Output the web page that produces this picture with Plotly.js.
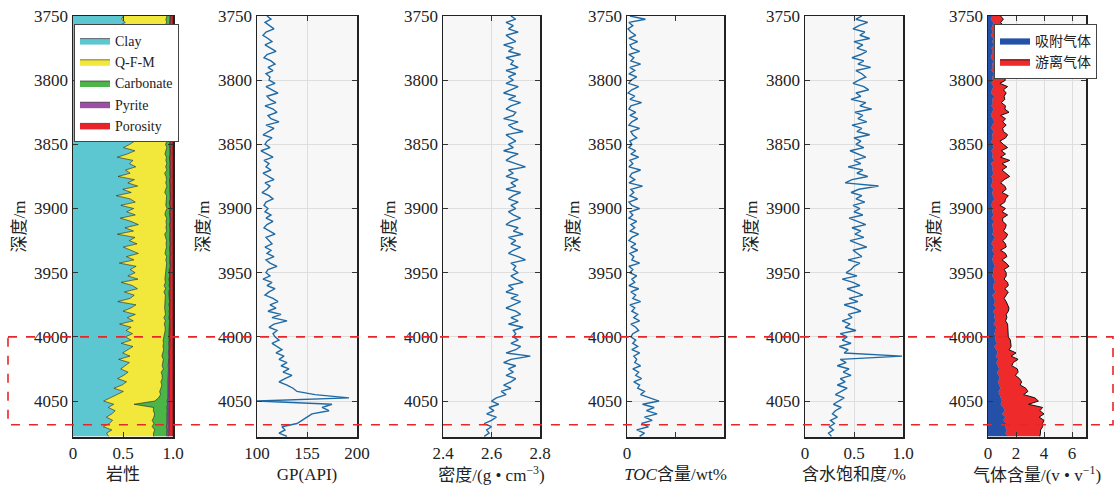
<!DOCTYPE html>
<html><head><meta charset="utf-8">
<script src="https://cdn.plot.ly/plotly-3.0.1.min.js"></script>
<style>html,body{margin:0;padding:0;background:#fff}#chart{width:1116px;height:488px}</style>
</head><body><div id="chart"></div>
<script>
// depth sampling (m), 2.5 m step from 3750 to 4077.5
const depthStart = 3750, depthStep = 2.5, nSamples = 132;
const depth = [];
for (let i = 0; i < nSamples; i++) depth.push(depthStart + depthStep * i);

// Lithology fractions
const clay = [0.50,0.48,0.52,0.47,0.55,0.50,0.53,0.49,0.56,0.51,0.54,0.48,0.57,0.52,0.50,0.55,0.49,0.58,0.53,0.51,
0.56,0.52,0.58,0.50,0.60,0.55,0.62,0.53,0.57,0.48,0.61,0.56,0.52,0.63,0.55,0.59,0.50,0.58,0.54,0.61,
0.57,0.50,0.62,0.55,0.44,0.60,0.56,0.63,0.52,0.58,0.45,0.61,0.55,0.64,0.50,0.59,0.43,0.57,0.62,0.48,
0.60,0.54,0.63,0.47,0.58,0.65,0.52,0.60,0.45,0.62,0.56,0.64,0.50,0.59,0.66,0.53,0.61,0.46,0.63,0.57,
0.62,0.55,0.65,0.48,0.60,0.64,0.52,0.61,0.57,0.45,0.63,0.58,0.50,0.62,0.55,0.60,0.47,0.58,0.53,0.60,
0.52,0.58,0.48,0.60,0.55,0.50,0.57,0.45,0.56,0.52,0.47,0.55,0.50,0.44,0.53,0.48,0.40,0.50,0.42,0.36,
0.30,0.40,0.35,0.42,0.38,0.33,0.40,0.36,0.30,0.38,0.33,0.35];
const qfm = [0.43,0.44,0.41,0.46,0.38,0.42,0.40,0.44,0.36,0.42,0.39,0.45,0.35,0.41,0.43,0.38,0.44,0.35,0.40,0.42,
0.37,0.41,0.35,0.43,0.33,0.38,0.31,0.40,0.36,0.45,0.32,0.37,0.41,0.30,0.38,0.34,0.43,0.35,0.39,0.32,
0.36,0.43,0.31,0.38,0.49,0.33,0.37,0.30,0.41,0.35,0.48,0.32,0.38,0.29,0.43,0.34,0.50,0.36,0.31,0.45,
0.33,0.39,0.30,0.46,0.35,0.28,0.41,0.33,0.48,0.31,0.37,0.29,0.43,0.34,0.27,0.40,0.32,0.47,0.30,0.36,
0.30,0.37,0.27,0.44,0.32,0.28,0.40,0.31,0.35,0.47,0.29,0.34,0.42,0.30,0.37,0.32,0.45,0.34,0.39,0.32,
0.38,0.32,0.42,0.30,0.35,0.40,0.32,0.44,0.33,0.37,0.42,0.33,0.38,0.44,0.34,0.39,0.46,0.36,0.43,0.47,
0.50,0.20,0.45,0.38,0.42,0.47,0.40,0.44,0.48,0.42,0.46,0.44];
const carbonate = [0.03,0.04,0.03,0.05,0.03,0.04,0.03,0.04,0.05,0.03,0.04,0.03,0.04,0.03,0.05,0.04,0.03,0.04,0.03,0.04,
0.04,0.03,0.05,0.03,0.04,0.03,0.04,0.05,0.03,0.04,0.03,0.04,0.03,0.05,0.04,0.03,0.04,0.03,0.05,0.03,
0.04,0.03,0.04,0.05,0.03,0.04,0.03,0.04,0.03,0.05,0.04,0.03,0.04,0.03,0.04,0.05,0.03,0.04,0.03,0.04,
0.03,0.04,0.05,0.03,0.04,0.03,0.04,0.03,0.05,0.04,0.03,0.04,0.03,0.04,0.05,0.03,0.04,0.03,0.04,0.03,
0.04,0.05,0.04,0.04,0.05,0.04,0.05,0.04,0.04,0.05,0.04,0.05,0.04,0.04,0.05,0.04,0.05,0.04,0.04,0.05,
0.05,0.06,0.05,0.06,0.05,0.06,0.07,0.05,0.06,0.06,0.05,0.07,0.06,0.06,0.07,0.06,0.07,0.08,0.07,0.09,
0.12,0.33,0.13,0.14,0.12,0.13,0.15,0.13,0.14,0.12,0.13,0.13];
const pyrite = [0.005,0.008,0.006,0.005,0.007,0.006,0.005,0.008,0.006,0.005,0.007,0.006,0.005,0.008,0.006,0.005,0.007,0.006,0.005,0.008,
0.006,0.005,0.007,0.006,0.005,0.008,0.006,0.005,0.007,0.006,0.005,0.008,0.006,0.005,0.007,0.006,0.005,0.008,0.006,0.005,
0.007,0.006,0.005,0.008,0.006,0.005,0.007,0.006,0.005,0.008,0.006,0.005,0.007,0.006,0.005,0.008,0.006,0.005,0.007,0.006,
0.005,0.008,0.006,0.005,0.007,0.006,0.005,0.008,0.006,0.005,0.007,0.006,0.005,0.008,0.006,0.005,0.007,0.006,0.005,0.008,
0.008,0.006,0.009,0.007,0.008,0.006,0.009,0.007,0.008,0.006,0.009,0.007,0.008,0.006,0.009,0.007,0.008,0.006,0.009,0.007,
0.010,0.008,0.011,0.009,0.010,0.012,0.009,0.011,0.010,0.012,0.011,0.013,0.010,0.012,0.014,0.011,0.013,0.015,0.012,0.014,
0.018,0.015,0.020,0.017,0.019,0.016,0.020,0.018,0.021,0.017,0.019,0.018];
const porosity = [0.025,0.022,0.028,0.024,0.026,0.030,0.023,0.027,0.025,0.029,0.024,0.026,0.028,0.023,0.027,0.025,0.029,0.024,0.026,0.028,
0.025,0.027,0.023,0.029,0.026,0.024,0.028,0.025,0.027,0.023,0.029,0.026,0.024,0.028,0.025,0.027,0.023,0.029,0.026,0.024,
0.028,0.025,0.027,0.023,0.029,0.026,0.024,0.028,0.025,0.027,0.023,0.029,0.026,0.024,0.028,0.025,0.027,0.023,0.029,0.026,
0.024,0.028,0.025,0.027,0.023,0.029,0.026,0.024,0.028,0.025,0.027,0.023,0.029,0.026,0.024,0.028,0.025,0.027,0.023,0.029,
0.030,0.026,0.032,0.028,0.031,0.027,0.033,0.029,0.030,0.028,0.032,0.027,0.031,0.029,0.033,0.028,0.030,0.032,0.029,0.031,
0.032,0.030,0.034,0.031,0.033,0.035,0.032,0.034,0.033,0.036,0.034,0.035,0.037,0.034,0.036,0.038,0.035,0.037,0.039,0.036,
0.040,0.038,0.042,0.039,0.041,0.043,0.040,0.042,0.044,0.041,0.043,0.042];

// GP (API)
const gp = [110,114,108,112,117,109,106,111,115,108,113,119,110,107,114,118,111,116,109,113,
112,118,109,115,121,110,113,119,108,116,120,111,114,122,109,117,112,106,115,110,
108,113,104,110,116,107,112,109,114,106,111,117,108,113,110,105,112,116,109,107,
111,108,114,109,116,110,107,113,118,109,112,115,108,114,110,117,109,113,120,111,
109,113,106,115,110,118,112,108,116,121,113,119,111,124,115,130,117,112,120,116,
118,122,115,120,125,119,127,122,130,124,132,126,135,128,122,130,136,140,158,192,
100,175,165,172,155,150,145,140,125,128,122,130];

// Density (g/cm3)
const density = [2.68,2.70,2.66,2.69,2.67,2.71,2.66,2.68,2.70,2.65,2.69,2.67,2.72,2.66,2.69,2.68,2.71,2.66,2.70,2.67,
2.69,2.66,2.71,2.68,2.65,2.70,2.67,2.72,2.68,2.66,2.70,2.69,2.65,2.71,2.67,2.69,2.73,2.66,2.68,2.70,
2.67,2.69,2.65,2.71,2.68,2.66,2.70,2.74,2.67,2.69,2.66,2.71,2.68,2.70,2.66,2.72,2.69,2.67,2.71,2.68,
2.70,2.67,2.69,2.72,2.68,2.66,2.71,2.69,2.73,2.67,2.70,2.68,2.72,2.69,2.67,2.71,2.74,2.68,2.70,2.69,
2.71,2.68,2.70,2.73,2.67,2.69,2.66,2.71,2.68,2.72,2.69,2.66,2.70,2.72,2.68,2.71,2.67,2.73,2.69,2.70,
2.69,2.71,2.68,2.72,2.70,2.66,2.76,2.68,2.65,2.70,2.67,2.69,2.66,2.70,2.68,2.65,2.68,2.64,2.66,2.62,
2.60,2.63,2.59,2.61,2.58,2.62,2.60,2.57,2.60,2.58,2.59,2.57];

// TOC (wt%)
const toc = [0.3,1.9,0.2,0.6,0.1,0.4,0.9,0.2,1.1,0.3,0.5,1.3,0.2,0.7,0.4,1.4,0.3,0.8,0.2,1.0,
0.4,0.2,1.2,0.5,0.1,0.8,0.3,1.5,0.4,0.2,0.9,0.3,1.1,0.5,0.2,1.3,0.4,0.6,1.0,0.3,
0.5,0.2,0.9,0.4,1.2,0.3,0.6,0.2,1.4,0.5,0.3,0.8,0.2,1.6,0.4,0.7,0.3,1.1,0.2,0.5,
1.3,0.3,0.6,0.2,1.0,0.4,0.8,0.3,1.2,0.5,0.2,0.9,0.4,1.1,0.3,0.7,0.5,1.3,0.2,0.6,
0.3,1.0,0.5,0.8,0.2,1.2,0.4,0.9,0.6,1.4,0.3,0.8,0.5,1.1,0.7,1.3,0.4,0.9,1.2,0.6,
0.4,0.9,0.6,1.1,0.5,1.3,0.7,1.0,0.8,1.4,0.6,1.2,0.9,1.5,0.7,1.3,1.1,1.8,1.4,2.3,
3.3,1.6,2.8,2.0,3.1,1.8,2.6,1.5,2.2,1.0,1.8,1.3];

// Water saturation
const sw = [0.58,0.52,0.64,0.55,0.49,0.61,0.56,0.66,0.50,0.59,0.53,0.63,0.57,0.48,0.60,0.54,0.67,0.52,0.58,0.62,
0.55,0.49,0.60,0.65,0.52,0.57,0.47,0.62,0.56,0.68,0.51,0.59,0.54,0.63,0.48,0.58,0.53,0.66,0.50,0.57,
0.52,0.60,0.46,0.55,0.62,0.50,0.57,0.44,0.59,0.53,0.64,0.48,0.41,0.75,0.55,0.47,0.58,0.52,0.61,0.49,
0.56,0.50,0.59,0.45,0.54,0.62,0.48,0.57,0.51,0.60,0.46,0.55,0.63,0.49,0.53,0.58,0.44,0.56,0.50,0.47,
0.42,0.53,0.38,0.49,0.56,0.43,0.51,0.59,0.45,0.54,0.40,0.50,0.57,0.44,0.48,0.38,0.46,0.41,0.52,0.36,
0.43,0.38,0.47,0.35,0.44,0.40,0.99,0.36,0.42,0.33,0.45,0.39,0.47,0.36,0.41,0.33,0.43,0.37,0.31,0.40,
0.34,0.29,0.37,0.31,0.28,0.33,0.26,0.30,0.25,0.29,0.24,0.27];

// Gas content (v/v)
const gasAdsorbed = [0.3,0.2,0.4,0.3,0.25,0.35,0.2,0.4,0.3,0.45,0.25,0.35,0.3,0.2,0.4,0.3,0.35,0.25,0.45,0.3,
0.35,0.25,0.4,0.3,0.2,0.45,0.3,0.35,0.25,0.4,0.3,0.2,0.35,0.45,0.3,0.25,0.4,0.3,0.35,0.25,
0.3,0.4,0.25,0.35,0.3,0.45,0.2,0.35,0.3,0.4,0.25,0.35,0.3,0.2,0.4,0.3,0.35,0.45,0.3,0.25,
0.35,0.3,0.4,0.25,0.45,0.3,0.35,0.4,0.3,0.5,0.35,0.25,0.4,0.3,0.45,0.35,0.3,0.4,0.5,0.35,
0.4,0.3,0.45,0.5,0.35,0.4,0.55,0.3,0.45,0.5,0.4,0.6,0.35,0.5,0.45,0.55,0.4,0.6,0.5,0.45,
0.55,0.5,0.65,0.45,0.6,0.7,0.55,0.75,0.6,0.7,0.8,0.65,0.75,0.85,0.7,0.8,0.9,0.75,0.85,0.95,
1.0,0.9,1.1,1.2,1.0,1.25,1.1,1.3,1.2,1.35,1.25,1.4];
const gasFree = [0.6,0.9,0.5,0.8,0.7,1.0,0.6,0.8,1.1,0.5,0.9,0.7,1.2,0.6,0.8,0.9,0.5,1.0,0.7,0.8,
0.9,0.6,1.0,0.8,1.1,0.7,0.9,0.6,1.0,0.8,1.2,0.7,0.9,0.6,1.0,0.8,0.7,1.1,0.9,0.6,
0.8,1.0,0.7,0.9,0.6,1.1,0.8,1.0,0.7,0.9,1.3,0.8,0.6,1.0,0.9,0.7,1.1,0.8,0.9,0.6,
0.9,0.7,1.0,0.8,0.6,1.0,0.9,0.7,1.1,0.8,0.7,1.0,0.9,0.6,0.8,1.0,0.7,0.9,1.0,0.8,
0.9,1.0,0.7,0.9,1.1,0.8,0.9,1.0,0.7,0.8,1.0,0.9,1.1,0.8,0.9,0.7,1.0,0.8,0.9,1.0,
0.9,1.1,1.0,1.2,0.9,1.3,1.1,1.4,1.2,1.0,1.3,1.5,1.2,1.4,1.7,1.5,1.8,2.1,1.7,2.4,
2.6,2.0,2.8,2.5,3.0,2.4,2.9,2.6,2.7,2.4,2.5,2.3];

// Labels
const lithNames = ['Clay','Q-F-M','Carbonate','Pyrite','Porosity'];
const gasNames = ['吸附气体','游离气体'];
const xTitles = ['岩性','GP(API)','密度/(g • cm<sup>−3</sup>)','<i>TOC</i>含量/wt%','含水饱和度/%','气体含量/(v • v<sup>−1</sup>)'];
const yTitle = '深度/m';
const depthTicks = [3750,3800,3850,3900,3950,4000,4050];

// ---------- layout geometry ----------
const W = 1116, H = 488;
const panelPx = [[73,173],[257,357],[443,540],[627,724],[805,903],[988,1086]];
const yTopPx = 16, yBotPx = 437;
const yDom = [(H - yBotPx) / H, (H - yTopPx) / H];
const serif = '"Liberation Serif", "Times New Roman", "Noto Sans CJK SC", serif';
const curveColor = '#1f6aa5';
const lithColors = ['#5cc7d1','#f2e83c','#4cb548','#9b50a6','#e8242a'];
const gasColors = ['#2450a8','#ee2a2a'];

const traces = [];
const lithData = [clay, qfm, carbonate, pyrite, porosity];
lithData.forEach((arr, k) => {
  const t = {
    type: 'scatter', mode: 'lines', x: arr, y: depth, xaxis: 'x', yaxis: 'y',
    stackgroup: 'lith', orientation: 'h', name: lithNames[k],
    fillcolor: lithColors[k], line: {color: '#1a1a1a', width: 0.6, shape: 'linear'},
    legend: 'legend', hoverinfo: 'skip'
  };
  if (k === 0) t.groupnorm = 'fraction';
  traces.push(t);
});
const curves = [gp, density, toc, sw];
curves.forEach((arr, k) => {
  traces.push({type: 'scatter', mode: 'lines', x: arr, y: depth,
    xaxis: 'x' + (k + 2), yaxis: 'y' + (k + 2), showlegend: false,
    line: {color: curveColor, width: 1.4}, hoverinfo: 'skip'});
});
[gasAdsorbed, gasFree].forEach((arr, k) => {
  traces.push({type: 'scatter', mode: 'lines', x: arr, y: depth, xaxis: 'x6', yaxis: 'y6',
    stackgroup: 'gas', orientation: 'h', name: gasNames[k], fillcolor: gasColors[k],
    line: {color: k === 0 ? gasColors[0] : '#111', width: k === 0 ? 0.4 : 1},
    legend: 'legend2', hoverinfo: 'skip'});
});

const axCommon = {
  showline: true, linecolor: '#222', linewidth: 1.5, mirror: 'ticks',
  ticks: 'inside', ticklen: 5, tickcolor: '#333', tickwidth: 1,
  showgrid: true, gridcolor: '#dedede', gridwidth: 1, zeroline: false,
  tickfont: {family: serif, size: 17, color: '#222'}, fixedrange: true
};
const xSpecs = [
  {range: [0, 1], tickvals: [0, 0.5, 1], ticktext: ['0','0.5','1.0']},
  {range: [100, 200], tickvals: [100, 150, 200], ticktext: ['100','155','200']},
  {range: [2.4, 2.8], tickvals: [2.4, 2.6, 2.8], ticktext: ['2.4','2.6','2.8']},
  {range: [0, 10], tickvals: [0], ticktext: ['0'],
   minor: {tickmode: 'array', tickvals: [5], ticks: 'inside', ticklen: 5, tickcolor: '#333', showgrid: false}},
  {range: [0, 1], tickvals: [0, 0.5, 1], ticktext: ['0','0.5','1.0']},
  {range: [0, 7], tickvals: [0, 2, 4, 6], ticktext: ['0','2','4','6']}
];
const legendCommon = {xanchor: 'left', yanchor: 'top', bgcolor: '#ffffff', bordercolor: '#444', borderwidth: 1,
  font: {family: serif, size: 14, color: '#222'}, itemwidth: 30, tracegroupgap: 0, traceorder: 'normal'};
const layout = {
  width: W, height: H, margin: {l: 0, r: 0, t: 0, b: 0},
  paper_bgcolor: '#ffffff', plot_bgcolor: '#f7f7f7',
  font: {family: serif, size: 17, color: '#222'},
  showlegend: true,
  legend: Object.assign({x: 74 / W, y: (H - 24) / H}, legendCommon),
  legend2: Object.assign({x: 994 / W, y: (H - 24) / H}, legendCommon),
  shapes: [{type: 'rect', xref: 'paper', yref: 'y', x0: 8 / W, x1: 1113 / W, y0: 4000, y1: 4068.5,
    line: {color: '#e8262a', width: 1.6, dash: 'dash'}, fillcolor: 'rgba(0,0,0,0)', layer: 'above'}]
};
panelPx.forEach((p, k) => {
  const s = k === 0 ? '' : String(k + 1);
  layout['xaxis' + s] = Object.assign({}, axCommon, xSpecs[k], {
    domain: [p[0] / W, p[1] / W], anchor: 'y' + s, tickmode: 'array',
    showgrid: k !== 0,
    title: {text: xTitles[k], font: {family: serif, size: 17, color: '#222'}, standoff: 6}
  });
  layout['yaxis' + s] = Object.assign({}, axCommon, {
    domain: yDom, anchor: 'x' + s, range: [4078, 3750], tickmode: 'array', tickvals: depthTicks,
    showgrid: k !== 0,
    title: {text: yTitle, font: {family: serif, size: 17, color: '#222'}, standoff: 4}
  });
});
Plotly.newPlot('chart', traces, layout, {displayModeBar: false, staticPlot: true});
</script></body></html>
